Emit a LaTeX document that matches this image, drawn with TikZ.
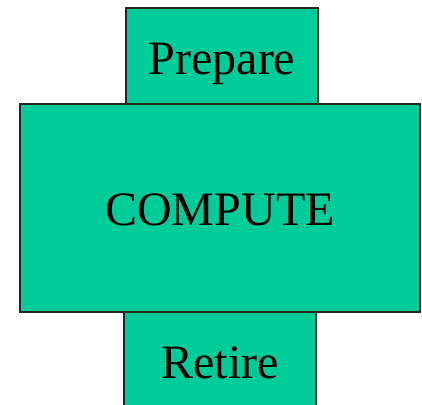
\documentclass[tikz,border=0pt]{standalone}
\usepackage{fontspec}
\setmainfont{Liberation Serif}
\definecolor{boxgreen}{HTML}{00CC99}
\begin{document}
\begin{tikzpicture}[x=1pt,y=-1pt,
  blk/.style={fill=boxgreen,draw=black!85,line width=1.3pt,inner sep=0pt,outer sep=0pt},
  lbl/.style={font=\fontsize{48}{48}\selectfont,text=black,anchor=base,inner sep=0pt}]
\useasboundingbox (0,0) rectangle (422,404);
\clip (0,0) rectangle (422,404);
\node[blk,minimum width=192pt,minimum height=96pt] (prep) at (222,56) {};
\node[blk,minimum width=192pt,minimum height=100pt] (ret) at (220,362) {};
\node[blk,minimum width=400pt,minimum height=208pt] (comp) at (220,208) {};
\node[lbl] (tprep) at (222,74) {Prepare};
\node[lbl] (tcomp) at (220,225) {COMPUTE};
\node[lbl] (tret) at (220,378) {Retire};
\end{tikzpicture}
\end{document}
